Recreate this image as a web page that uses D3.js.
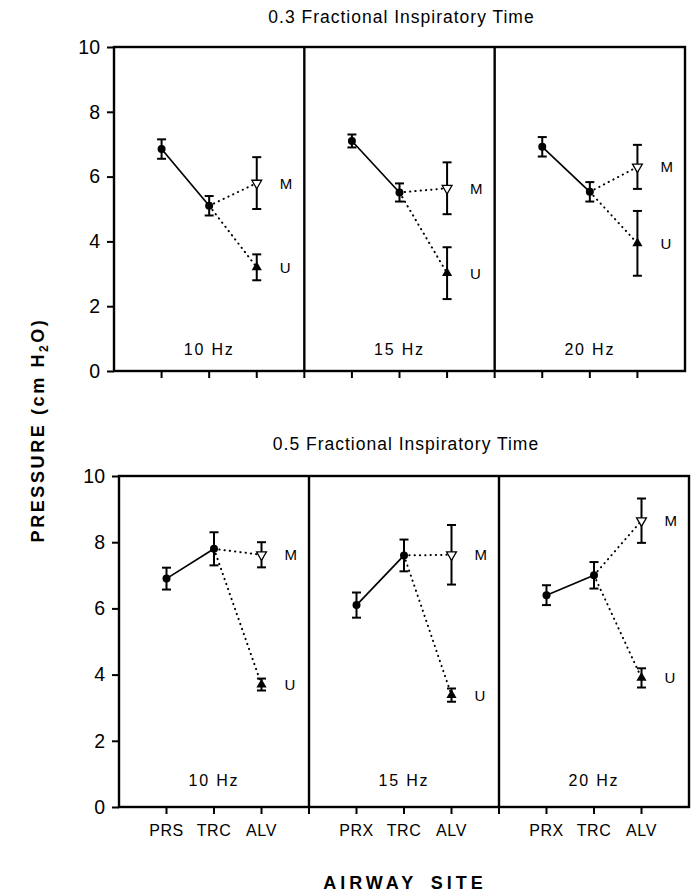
<!DOCTYPE html>
<html>
<head>
<meta charset="utf-8">
<script src="https://cdn.jsdelivr.net/npm/d3@7"></script>
<style>
  html, body { margin: 0; padding: 0; background: #fff; }
  svg { display: block; }
  text { font-family: "Liberation Sans", Arial, Helvetica, sans-serif; fill: #000; }
</style>
</head>
<body>
<svg id="chart" width="695" height="895"></svg>
<script>
// ---------------- DATA ----------------
const frequencies = ["10 Hz", "15 Hz", "20 Hz"];
const sitesFirst = ["PRS", "TRC", "ALV"];
const sitesOther = ["PRX", "TRC", "ALV"];
const yTicks = [0, 2, 4, 6, 8, 10];
const panelTitles = ["0.3 Fractional Inspiratory Time", "0.5 Fractional Inspiratory Time"];

// 0.3 fractional inspiratory time
const prx03 = [6.85, 7.1, 6.92];
const prx03Err = [0.3, 0.2, 0.3];
const trc03 = [5.1, 5.51, 5.53];
const trc03Err = [0.3, 0.28, 0.3];
const m03 = [5.8, 5.64, 6.3];
const m03Err = [0.8, 0.8, 0.68];
const u03 = [3.2, 3.02, 3.94];
const u03Err = [0.4, 0.8, 1.0];

// 0.5 fractional inspiratory time
const prx05 = [6.9, 6.1, 6.4];
const prx05Err = [0.33, 0.38, 0.3];
const trc05 = [7.8, 7.6, 7.0];
const trc05Err = [0.5, 0.48, 0.4];
const m05 = [7.62, 7.62, 8.65];
const m05Err = [0.38, 0.9, 0.67];
const u05 = [3.7, 3.38, 3.9];
const u05Err = [0.18, 0.2, 0.29];

// ---------------- DRAW ----------------
const svg = d3.select("#chart");
const FONT = '"Liberation Sans", Arial, Helvetica, sans-serif';

const blocks = [
  { title: panelTitles[0], prx: prx03, prxE: prx03Err, trc: trc03, trcE: trc03Err, m: m03, mE: m03Err, u: u03, uE: u03Err,
    left: 114, right: 685, top: 47, bottom: 371, titleY: 23, hzOff: 16, catLabels: false },
  { title: panelTitles[1], prx: prx05, prxE: prx05Err, trc: trc05, trcE: trc05Err, m: m05, mE: m05Err, u: u05, uE: u05Err,
    left: 119, right: 689, top: 476, bottom: 807, titleY: 450, hzOff: 21, catLabels: true }
];

blocks.forEach(b => {
  const g = svg.append("g");
  const y = d3.scaleLinear().domain([0, 10]).range([b.bottom, b.top]);
  const xPanel = d3.scaleBand().domain(frequencies).range([b.left, b.right]).paddingInner(0).paddingOuter(0);
  const bw = xPanel.bandwidth();
  const xSite = d3.scalePoint().domain([0, 1, 2]).range([0, bw]).padding(1);
  const px = (fi, si) => xPanel(frequencies[fi]) + xSite(si);

  // title
  g.append("text")
    .attr("x", (b.left + b.right) / 2 + 2)
    .attr("y", b.titleY)
    .attr("text-anchor", "middle")
    .style("font-size", "17.5px")
    .style("letter-spacing", "1px")
    .text(b.title);

  // y axis
  const yAxis = d3.axisLeft(y).tickValues(yTicks).tickSize(7).tickPadding(7).tickFormat(d3.format("d"));
  const ya = g.append("g").attr("transform", `translate(${b.left},0)`).call(yAxis);
  ya.select(".domain").remove();
  ya.selectAll("line").attr("stroke", "#000").attr("stroke-width", 2);
  ya.selectAll("text").style("font-size", "19.5px").style("font-family", FONT).attr("fill", "#000");

  // bottom ticks (categories + inner dividers)
  const tickXs = [];
  frequencies.forEach((f, fi) => {
    [0, 1, 2].forEach(si => tickXs.push(px(fi, si)));
    if (fi > 0) tickXs.push(xPanel(f));
  });
  g.selectAll(".btick").data(tickXs).enter().append("line")
    .attr("x1", d => d).attr("x2", d => d)
    .attr("y1", b.bottom).attr("y2", b.bottom + 7)
    .attr("stroke", "#000").attr("stroke-width", 2);

  // frame
  g.append("rect")
    .attr("x", b.left).attr("y", b.top)
    .attr("width", b.right - b.left).attr("height", b.bottom - b.top)
    .attr("fill", "none").attr("stroke", "#000").attr("stroke-width", 2.4);
  frequencies.slice(1).forEach(f => {
    g.append("line")
      .attr("x1", xPanel(f)).attr("x2", xPanel(f))
      .attr("y1", b.top).attr("y2", b.bottom)
      .attr("stroke", "#000").attr("stroke-width", 2.4);
  });

  frequencies.forEach((f, fi) => {
    const pg = g.append("g");
    const xs = [px(fi, 0), px(fi, 1), px(fi, 2)];

    // category labels
    if (b.catLabels) {
      const labels = fi === 0 ? sitesFirst : sitesOther;
      labels.forEach((l, si) => {
        pg.append("text").attr("x", xs[si]).attr("y", b.bottom + 29)
          .attr("text-anchor", "middle").style("font-size", "16px").style("letter-spacing", "0.6px").text(l);
      });
    }

    // Hz label
    pg.append("text").attr("x", xs[1]).attr("y", b.bottom - b.hzOff)
      .attr("text-anchor", "middle").style("font-size", "16px").style("letter-spacing", "1.8px").text(f);

    // connecting lines
    pg.append("line")
      .attr("x1", xs[0]).attr("y1", y(b.prx[fi]))
      .attr("x2", xs[1]).attr("y2", y(b.trc[fi]))
      .attr("stroke", "#000").attr("stroke-width", 1.7);
    [b.m[fi], b.u[fi]].forEach(v => {
      pg.append("line")
        .attr("x1", xs[1]).attr("y1", y(b.trc[fi]))
        .attr("x2", xs[2]).attr("y2", y(v))
        .attr("stroke", "#000").attr("stroke-width", 2)
        .attr("stroke-linecap", "round")
        .attr("stroke-dasharray", "0.3,5");
    });

    // error bars
    const errs = [
      [xs[0], b.prx[fi], b.prxE[fi]],
      [xs[1], b.trc[fi], b.trcE[fi]],
      [xs[2], b.m[fi], b.mE[fi]],
      [xs[2], b.u[fi], b.uE[fi]]
    ];
    errs.forEach(([x, v, e]) => {
      const y1 = y(v + e), y2 = y(v - e);
      pg.append("line").attr("x1", x).attr("x2", x).attr("y1", y1).attr("y2", y2)
        .attr("stroke", "#000").attr("stroke-width", 2);
      [y1, y2].forEach(yy => pg.append("line")
        .attr("x1", x - 4.5).attr("x2", x + 4.5).attr("y1", yy).attr("y2", yy)
        .attr("stroke", "#000").attr("stroke-width", 2));
    });

    // markers
    pg.append("circle").attr("cx", xs[0]).attr("cy", y(b.prx[fi])).attr("r", 4).attr("fill", "#000");
    pg.append("circle").attr("cx", xs[1]).attr("cy", y(b.trc[fi])).attr("r", 4).attr("fill", "#000");
    pg.append("path")
      .attr("d", d3.symbol().type(d3.symbolTriangle).size(42)())
      .attr("transform", `translate(${xs[2]},${y(b.m[fi])}) rotate(180)`)
      .attr("fill", "#fff").attr("stroke", "#000").attr("stroke-width", 1.3);
    pg.append("path")
      .attr("d", d3.symbol().type(d3.symbolTriangle).size(45)())
      .attr("transform", `translate(${xs[2]},${y(b.u[fi])})`)
      .attr("fill", "#000");

    // M / U labels
    pg.append("text").attr("x", xs[2] + 23).attr("y", y(b.m[fi]) + 5.5)
      .style("font-size", "15px").text("M");
    pg.append("text").attr("x", xs[2] + 23).attr("y", y(b.u[fi]) + 5.5)
      .style("font-size", "15px").text("U");
  });
});

// axis titles
const yt = svg.append("text")
  .attr("transform", "translate(44,430) rotate(-90)")
  .attr("text-anchor", "middle")
  .style("font-size", "18px").style("font-weight", "bold").style("letter-spacing", "2.6px");
yt.append("tspan").text("PRESSURE  (cm H");
yt.append("tspan").attr("dy", 4).style("font-size", "12px").text("2");
yt.append("tspan").attr("dy", -4).text("O)");

svg.append("text")
  .attr("x", 405).attr("y", 889)
  .attr("text-anchor", "middle")
  .style("font-size", "18px").style("font-weight", "bold").style("letter-spacing", "4px").style("word-spacing", "5px")
  .text("AIRWAY SITE");
</script>
</body>
</html>
